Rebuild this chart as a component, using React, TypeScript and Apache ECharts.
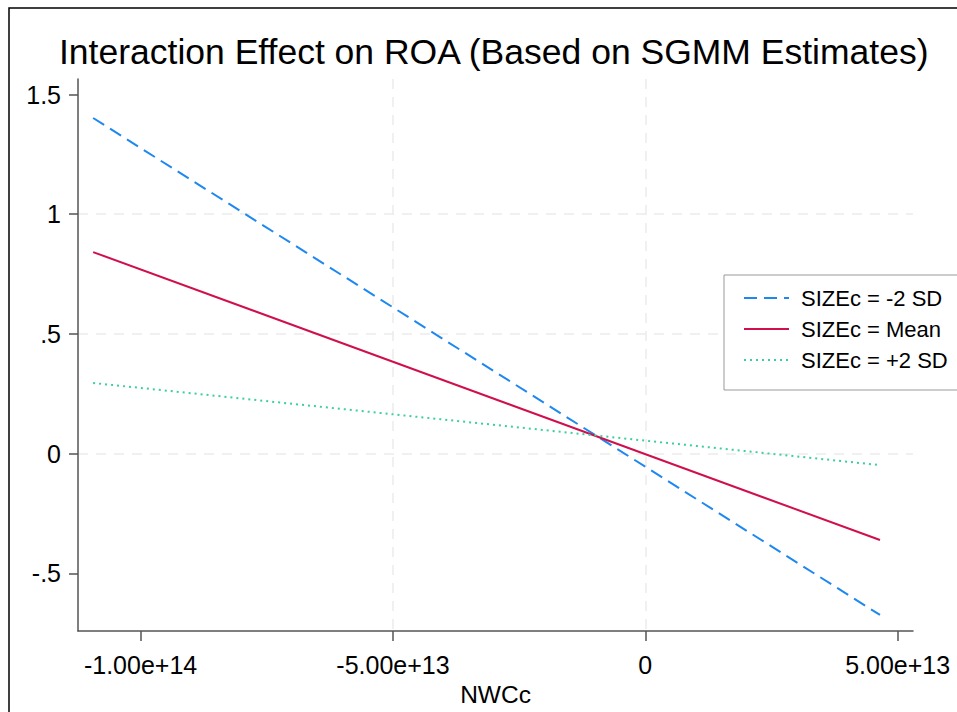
import React, { useEffect, useRef } from "react";
import * as echarts from "echarts";

const titleText = "Interaction Effect on ROA (Based on SGMM Estimates)";
const xName = "NWCc";
const seriesNames = ["SIZEc = -2 SD", "SIZEc = Mean", "SIZEc = +2 SD"];
const xEnds = [-1.094e14, 4.65e13];
const lowSize = [1.402, -0.674];
const meanSize = [0.842, -0.361];
const highSize = [0.295, -0.048];
const xTicks = [-1e14, -5e13, 0, 5e13];
const yTicks = [-0.5, 0, 0.5, 1, 1.5];
const colors = ["#1E88F0", "#D0104C", "#3CCF9C"];

const fmtX = (v: number) => (v === 0 ? "0" : v.toExponential(2));
const fmtY = (v: number) => {
  if (v === 0) return "0";
  const s = String(v);
  return s.replace(/^(-?)0\./, "$1.");
};

export default function App() {
  const ref = useRef<HTMLDivElement>(null);
  useEffect(() => {
    if (!ref.current) return;
    const chart = echarts.init(ref.current, undefined, { renderer: "svg" });
    const font = "'Liberation Sans', Arial, Helvetica, sans-serif";
    const seriesData = [lowSize, meanSize, highSize];
    const lineTypes: any[] = [[13, 7], "solid", [2, 4]];
    chart.setOption({
      animation: false,
      backgroundColor: "#ffffff",
      textStyle: { fontFamily: font },
      title: {
        text: titleText,
        left: 59,
        top: 34,
        padding: 0,
        textStyle: { fontFamily: font, fontSize: 35.5, fontWeight: "normal", color: "#000" },
      },
      graphic: [
        {
          type: "rect",
          shape: { x: 9, y: 8, width: 1000, height: 800 },
          style: { fill: "none", stroke: "#000", lineWidth: 1.5 },
          silent: true,
          z: 100,
        },
      ],
      legend: {
        orient: "vertical",
        left: 724,
        top: 275,
        padding: [12, 30, 19, 19],
        itemWidth: 45,
        itemHeight: 14,
        itemGap: 9,
        borderColor: "#999",
        borderWidth: 1,
        backgroundColor: "#fff",
        data: seriesNames,
        itemStyle: { color: "rgba(0,0,0,0)", borderColor: "rgba(0,0,0,0)", borderWidth: 0, opacity: 0 },
        textStyle: { fontFamily: font, fontSize: 22, color: "#000", padding: [0, 0, 0, 7], lineHeight: 22 },
      },
      grid: { left: 78, right: 44, top: 79, bottom: 81 },
      xAxis: {
        type: "value",
        min: -1.124e14,
        max: 5.304e13,
        splitNumber: 3,
        name: xName,
        nameLocation: "middle",
        nameGap: 46,
        nameTextStyle: { fontFamily: font, fontSize: 24.5, color: "#000" },
        axisLine: { onZero: false, lineStyle: { color: "#555", width: 1.5 } },
        axisTick: { show: true, length: 10, customValues: xTicks, lineStyle: { color: "#555", width: 1.5 } },
        axisLabel: {
          customValues: xTicks,
          formatter: fmtX,
          margin: 21,
          fontFamily: font,
          fontSize: 25,
          color: "#000",
        },
        splitLine: {
          show: true,
          showMinLine: false,
          showMaxLine: false,
          lineStyle: { color: "#ececec", width: 1.5, type: [10, 8] },
        },
      },
      yAxis: {
        type: "value",
        min: -0.741,
        max: 1.565,
        splitNumber: 5,
        axisLine: { show: true, onZero: false, lineStyle: { color: "#555", width: 1.5 } },
        axisTick: { show: true, length: 9, customValues: yTicks, lineStyle: { color: "#555", width: 1.5 } },
        axisLabel: {
          customValues: yTicks,
          formatter: fmtY,
          margin: 17,
          fontFamily: font,
          fontSize: 25,
          color: "#000",
        },
        splitLine: {
          show: true,
          showMinLine: false,
          showMaxLine: false,
          lineStyle: { color: "#ececec", width: 1.5, type: [10, 8] },
        },
      },
      series: seriesData.map((vals, i) => ({
        name: seriesNames[i],
        type: "line",
        symbol: "none",
        showSymbol: false,
        data: xEnds.map((x, j) => [x, vals[j]]),
        lineStyle: { color: colors[i], width: 2, type: lineTypes[i] },
        itemStyle: { color: colors[i] },
      })),
    });
    return () => chart.dispose();
  }, []);
  return <div ref={ref} style={{ width: 957, height: 712, position: "absolute", left: 0, top: 0 }} />;
}
